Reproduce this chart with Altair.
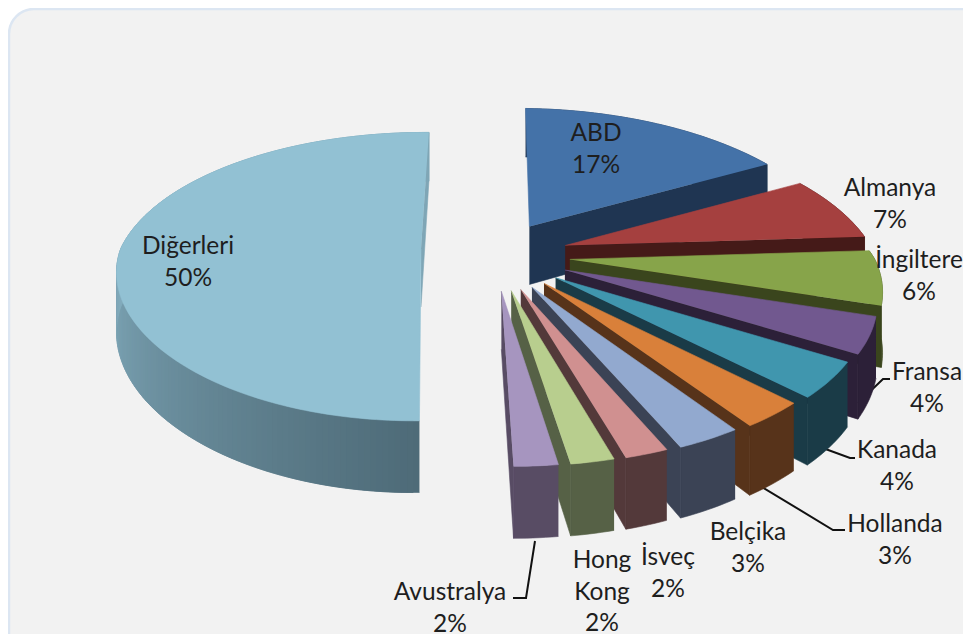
import math
import altair as alt
import pandas as pd

# ---- data ----
categories = ["ABD", "Almanya", "İngiltere", "Fransa", "Kanada", "Hollanda",
              "Belçika", "İsveç", "Hong Kong", "Avustralya", "Diğerleri"]
shares = [17, 7, 6, 4, 4, 3, 3, 2, 2, 2, 50]
label_lines = [["ABD"], ["Almanya"], ["İngiltere"], ["Fransa"], ["Kanada"], ["Hollanda"],
               ["Belçika"], ["İsveç"], ["Hong", "Kong"], ["Avustralya"], ["Diğerleri"]]
top_colors = ["#4472A8", "#A5403F", "#87A44A", "#71588F", "#4096AE", "#D9803A",
              "#92A9CF", "#D09090", "#B8CE8E", "#A695BF", "#92C1D3"]
wall_left = ["#1F3552", "#451A18", "#3A451D", "#2C2038", "#1A3B47", "#57331A",
             "#3B4355", "#53393A", "#566146", "#584C64", "#82ABBC"]
wall_right = ["#1F3552", "#451A18", "#3A451D", "#2C2038", "#1A3B47", "#57331A",
              "#3B4355", "#53393A", "#566146", "#584C64", "#4E6B78"]

# ---- layout of the drawing (not data) ----
label_xy = [(596, 134), (890, 189), (919, 261), (927, 373), (897, 451), (895, 525),
            (748, 533), (668, 558), (602, 561), (450, 593), (188, 247)]
line_gap = 31.7
leaders = [[(858, 403), (883, 379), (890, 379)],
           [(820, 447), (850, 458), (855, 458)],
           [(762, 487), (833, 530), (845, 530)],
           [(535, 541), (526, 598), (513, 598)]]

PX, PY, RX, RY, P, DEPTH = 451.0, 262.0, 305.0, 141.0, 0.1945, 58.0
CX, CY, EXPLODE = 0.143, -0.05, 0.25
FRONT_NARROW = 0.05
OTHERS_APEX = (421.0, 249.0)
OTHERS_TWEAK = (-0.9, 0.7)
OTHERS_RADIUS = 0.985
FIRST_RIM_TURN = 2.0


def project(x, y):
    s = 1.0 / (1.0 - P * y)
    return PX + s * x * RX, PY + s * y * RY


def local(apex, x, y, z=0.0):
    """A point of a slice, x and y measured from the slice's own apex."""
    ax, ay = apex
    s = 1.0 / (1.0 - P * y)
    narrow = 1.0 - FRONT_NARROW * max(0.0, y)
    return PX + (ax - PX) * s + s * x * RX * narrow, ay + s * (y * RY + z * DEPTH)


def lerp_color(a, b, t):
    ca = [int(a[i:i + 2], 16) for i in (1, 3, 5)]
    cb = [int(b[i:i + 2], 16) for i in (1, 3, 5)]
    return "#" + "".join(f"{round(p + (q - p) * t):02x}" for p, q in zip(ca, cb))


rows = []
pid = 0


def add_poly(points, color):
    global pid
    for i, (px, py) in enumerate(points):
        rows.append({"sx": px, "sy": py, "pid": pid, "i": i, "color": color})
    pid += 1


total = sum(shares)
cum = 0.0
for k, share in enumerate(shares):
    a0 = cum / total * 360
    cum += share
    a1 = cum / total * 360
    mid = math.radians((a0 + a1) / 2)
    radius = 1.0
    if k == len(shares) - 1:
        apex = OTHERS_APEX
        a0 += OTHERS_TWEAK[0]
        a1 += OTHERS_TWEAK[1]
        radius = OTHERS_RADIUS
    else:
        apex = project(CX + EXPLODE * math.sin(mid), CY - EXPLODE * math.cos(mid))
    n = max(4, int(a1 - a0))
    rim = []
    for j in range(n + 1):
        f = j / n
        ang = a0 + (a1 - a0) * f
        if k == 0:
            ang += FIRST_RIM_TURN * (1 - f)
        t = math.radians(ang)
        rim.append((radius * math.sin(t), -radius * math.cos(t)))
    # rim wall: one piece when flat, overlapping strips when it is shaded
    if wall_left[k] == wall_right[k]:
        add_poly([local(apex, x, y) for x, y in rim] +
                 [local(apex, x, y, 1) for x, y in reversed(rim)], wall_left[k])
    else:
        for j in range(n):
            (x0, y0), (x1, y1) = rim[j], rim[min(j + 2, n)]
            t = min(1.0, 2 * j / max(1, n - 1))
            col = lerp_color(wall_right[k], wall_left[k], t)
            add_poly([local(apex, x0, y0), local(apex, x1, y1),
                      local(apex, x1, y1, 1), local(apex, x0, y0, 1)], col)
    # the flat wall that faces the viewer
    ex, ey = rim[-1]
    add_poly([local(apex, 0, 0), local(apex, ex, ey), local(apex, ex, ey, 1), local(apex, 0, 0, 1)],
             wall_left[k] if k < len(shares) - 1 else "#7FA6B6")
    # top
    add_poly([local(apex, 0, 0)] + [local(apex, x, y) for x, y in rim], top_colors[k])

polys = pd.DataFrame(rows)

lab_rows = []
for k, lines in enumerate(label_lines):
    x, y = label_xy[k]
    for j, txt in enumerate(lines + [f"{shares[k]}%"]):
        lab_rows.append({"sx": x, "sy": y + j * line_gap, "txt": txt})
labels = pd.DataFrame(lab_rows)

lead_rows = []
for k, path in enumerate(leaders):
    for i, (x, y) in enumerate(path):
        lead_rows.append({"sx": x, "sy": y, "pid": k, "i": i})
lead = pd.DataFrame(lead_rows)

W, H = 955, 626
xs = alt.Scale(domain=[8, 963], range=[0, W])
ys = alt.Scale(domain=[8, 634], range=[0, H])
X = alt.X("sx:Q", scale=xs, axis=None)
Y = alt.Y("sy:Q", scale=ys, axis=None)

panel = alt.Chart(pd.DataFrame({"a": [9], "b": [990], "c": [9], "d": [660]})).mark_rect(
    fill="#F2F2F2", stroke="#DCE6F2", strokeWidth=2.5, cornerRadius=25, clip=True
).encode(x=alt.X("a:Q", scale=xs, axis=None), x2="b:Q",
         y=alt.Y("c:Q", scale=ys, axis=None), y2="d:Q")

shapes = alt.Chart(polys).mark_line(strokeWidth=0.6, strokeJoin="round", interpolate="linear",
                                    opacity=1, fillOpacity=1, strokeOpacity=1).encode(
    x=X, y=Y, detail="pid:N", order="i:Q",
    fill=alt.Fill("color:N", scale=None), stroke=alt.Stroke("color:N", scale=None))

lines = alt.Chart(lead).mark_line(color="#111111", strokeWidth=2).encode(
    x=X, y=Y, detail="pid:N", order="i:Q")

texts = alt.Chart(labels).mark_text(font="Lato", fontSize=24.5, color="#1E1E1E",
                                    align="center", baseline="middle").encode(x=X, y=Y, text="txt:N")

chart = alt.layer(panel, lines, shapes, texts).properties(
    width=W, height=H, padding=0, background="#FFFFFF"
).configure_view(stroke=None)

chart.save("out.html", embed_options={"renderer": "svg", "actions": False})
